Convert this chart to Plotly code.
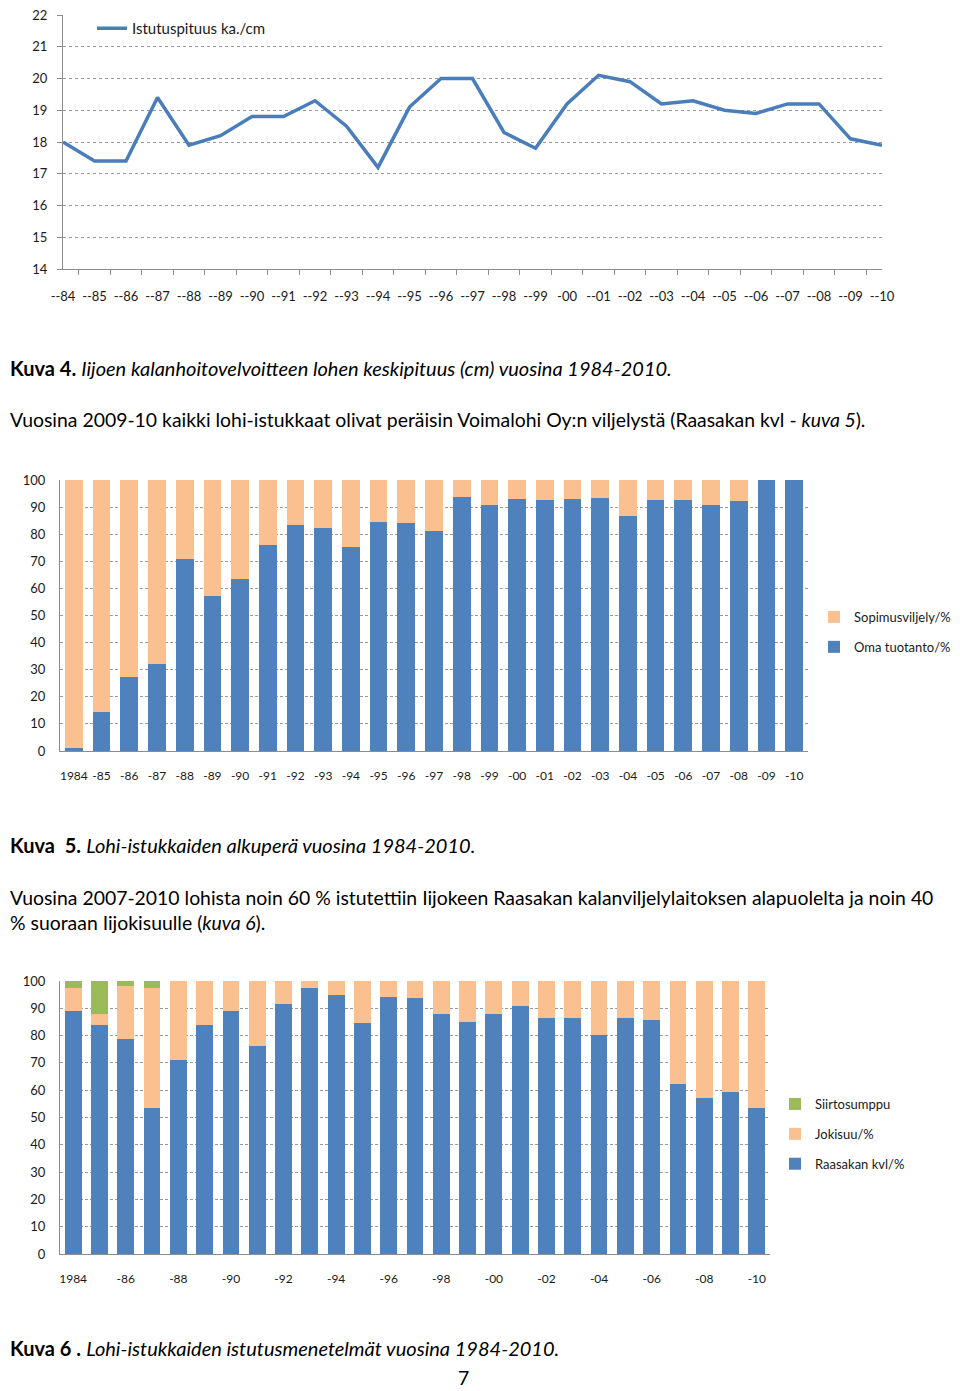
import plotly.graph_objects as go

# The page is shown with the browser's 8px body margin, so the figure is drawn
# 8px in from the window's top-left corner; coordinates below are window pixels.
OFF = 8
FW, FH = 952, 1383

# ---------------- data ----------------
line_labels = ["--84", "--85", "--86", "--87", "--88", "--89", "--90", "--91", "--92",
               "--93", "--94", "--95", "--96", "--97", "--98", "--99", "-00", "--01",
               "--02", "--03", "--04", "--05", "--06", "--07", "--08", "--09", "--10"]
length_cm = [18.0, 17.4, 17.4, 19.4, 17.9, 18.2, 18.8, 18.8, 19.3, 18.5, 17.2, 19.1,
             20.0, 20.0, 18.3, 17.8, 19.2, 20.1, 19.9, 19.2, 19.3, 19.0, 18.9, 19.2,
             19.2, 18.1, 17.9]

bar_labels = ["1984", "-85", "-86", "-87", "-88", "-89", "-90", "-91", "-92", "-93",
              "-94", "-95", "-96", "-97", "-98", "-99", "-00", "-01", "-02", "-03",
              "-04", "-05", "-06", "-07", "-08", "-09", "-10"]
oma_tuotanto = [1.0, 14.5, 27.4, 32.0, 71.0, 57.1, 63.4, 76.2, 83.3, 82.3, 75.1, 84.4,
                84.3, 81.1, 93.6, 90.6, 93.0, 92.5, 93.0, 93.4, 86.9, 92.6, 92.6, 90.8,
                92.4, 100.0, 100.0]
sopimusviljely = [99.0, 85.5, 72.6, 68.0, 29.0, 42.9, 36.6, 23.8, 16.7, 17.7, 24.9, 15.6,
                  15.7, 18.9, 6.4, 9.4, 7.0, 7.5, 7.0, 6.6, 13.1, 7.4, 7.4, 9.2,
                  7.6, 0.0, 0.0]

raasakan = [89.0, 84.0, 78.7, 53.4, 71.1, 84.0, 88.9, 76.2, 91.7, 97.6, 95.0, 84.7,
            94.1, 93.8, 87.8, 85.0, 87.8, 90.8, 86.3, 86.3, 80.2, 86.3, 85.8, 62.2,
            57.3, 59.4, 53.4]
jokisuu = [8.3, 3.9, 19.3, 43.9, 28.9, 16.0, 11.1, 23.8, 8.3, 2.4, 5.0, 15.3,
           5.9, 6.2, 12.2, 15.0, 12.2, 9.2, 13.7, 13.7, 19.8, 13.7, 14.2, 37.8,
           42.7, 40.6, 46.6]
siirtosumppu = [2.7, 12.1, 2.0, 2.7, 0, 0, 0, 0, 0, 0, 0, 0,
                0, 0, 0, 0, 0, 0, 0, 0, 0, 0, 0, 0, 0, 0, 0]
bar3_ticks = ["1984", "-86", "-88", "-90", "-92", "-94", "-96", "-98", "-00", "-02",
              "-04", "-06", "-08", "-10"]

# ---------------- style ----------------
BLUE = "#4F81BD"
ORANGE = "#FAC090"
GREEN = "#9BBB59"
LINEBLUE = "#4A7EBB"
AX = "#8C8C8C"
GRID = "#9A9A9A"
FONT = "Lato"
TXT = "#1a1a1a"


def px_x(p):
    return max(0.0, (p - OFF) / FW)


def px_y(p):
    return min(1.0, max(0.0, 1 - (p - OFF) / FH))


fig = go.Figure()

# chart 1: line
fig.add_trace(go.Scatter(x=line_labels, y=length_cm, mode="lines",
                         line=dict(color=LINEBLUE, width=3.5),
                         name="Istutuspituus ka./cm", xaxis="x", yaxis="y",
                         legend="legend", showlegend=True))

# chart 2: stacked bars
fig.add_trace(go.Bar(x=bar_labels, y=oma_tuotanto, name="Oma tuotanto/%",
                     marker=dict(color=BLUE, line=dict(width=0)), xaxis="x2", yaxis="y2",
                     legend="legend2", legendgroup="a", legendrank=2))
fig.add_trace(go.Bar(x=bar_labels, y=sopimusviljely, name="Sopimusviljely/%",
                     marker=dict(color=ORANGE, line=dict(width=0)), xaxis="x2", yaxis="y2",
                     legend="legend2", legendgroup="b", legendrank=1))

# chart 3: stacked bars
fig.add_trace(go.Bar(x=bar_labels, y=raasakan, name="Raasakan kvl/%",
                     marker=dict(color=BLUE, line=dict(width=0)), xaxis="x3", yaxis="y3",
                     legend="legend3", legendgroup="c", legendrank=3))
fig.add_trace(go.Bar(x=bar_labels, y=jokisuu, name="Jokisuu/%",
                     marker=dict(color=ORANGE, line=dict(width=0)), xaxis="x3", yaxis="y3",
                     legend="legend3", legendgroup="d", legendrank=2))
fig.add_trace(go.Bar(x=bar_labels, y=siirtosumppu, name="Siirtosumppu",
                     marker=dict(color=GREEN, line=dict(width=0)), xaxis="x3", yaxis="y3",
                     legend="legend3", legendgroup="e", legendrank=1))

tickfont = dict(family=FONT, size=13, color=TXT)

fig.update_layout(
    width=FW, height=FH,
    margin=dict(l=0, r=0, t=0, b=0, autoexpand=False),
    paper_bgcolor="white", plot_bgcolor="white",
    barmode="stack", bargap=0.36,
    showlegend=True,
    font=dict(family=FONT, color=TXT),
    xaxis=dict(domain=[px_x(63), px_x(882)], anchor="y", type="category",
               showline=True, linecolor=AX, linewidth=1, ticks="outside",
               tickson="boundaries", ticklen=5, tickcolor=AX, showgrid=False,
               tickangle=0, tickfont=tickfont, ticklabelstandoff=15, automargin=False),
    yaxis=dict(domain=[px_y(269), px_y(15)], anchor="x", range=[14, 22], dtick=1,
               showline=True, linecolor=AX, linewidth=1, ticks="outside", ticklen=5,
               tickcolor=AX, showgrid=True, gridcolor=GRID, griddash="dot",
               gridwidth=1, zeroline=False, tickfont=tickfont, ticklabelstandoff=7,
               ticklabeloverflow="allow", automargin=False),
    xaxis2=dict(domain=[px_x(60), px_x(808)], anchor="y2", type="category",
                showline=True, linecolor=AX, linewidth=1, ticks="", showgrid=False,
                tickangle=0, tickfont=dict(family=FONT, size=12, color=TXT),
                ticklabelstandoff=14, automargin=False),
    yaxis2=dict(domain=[px_y(751), px_y(480)], anchor="x2", range=[0, 100], dtick=10,
                showline=True, linecolor=AX, linewidth=1, ticks="",
                showgrid=True, gridcolor=GRID, griddash="3px,2px", gridwidth=1,
                zeroline=False, tickfont=tickfont, ticklabelstandoff=11, automargin=False),
    xaxis3=dict(domain=[px_x(60), px_x(770)], anchor="y3", type="category",
                showline=True, linecolor=AX, linewidth=1, ticks="", showgrid=False,
                tickmode="array", tickvals=bar3_ticks, ticktext=bar3_ticks, tickangle=0,
                tickfont=dict(family=FONT, size=12, color=TXT), ticklabelstandoff=14,
                automargin=False),
    yaxis3=dict(domain=[px_y(1254), px_y(981)], anchor="x3", range=[0, 100], dtick=10,
                showline=True, linecolor=AX, linewidth=1, ticks="",
                showgrid=True, gridcolor=GRID, griddash="3px,2px", gridwidth=1,
                zeroline=False, tickfont=tickfont, ticklabelstandoff=11, automargin=False),
    legend=dict(x=px_x(92), y=px_y(12), xanchor="left", yanchor="top",
                xref="container", yref="container",
                bgcolor="rgba(0,0,0,0)", font=dict(family=FONT, size=15, color=TXT)),
    legend2=dict(x=px_x(814), y=px_y(602), xanchor="left", yanchor="top",
                 xref="container", yref="container",
                 traceorder="grouped", tracegroupgap=10,
                 bgcolor="rgba(0,0,0,0)", font=dict(family=FONT, size=13, color=TXT)),
    legend3=dict(x=px_x(775), y=px_y(1089), xanchor="left", yanchor="top",
                 xref="container", yref="container",
                 traceorder="grouped", tracegroupgap=10,
                 bgcolor="rgba(0,0,0,0)", font=dict(family=FONT, size=13, color=TXT)),
)

TS = 19.4   # body text
TC = 20     # captions
texts = [
    (368, TC, "<b>Kuva 4.</b> <i>Iijoen kalanhoitovelvoitteen lohen keskipituus (cm) vuosina 1984-2010.</i>"),
    (420, TS, "Vuosina 2009-10 kaikki lohi-istukkaat olivat peräisin Voimalohi Oy:n viljelystä (Raasakan kvl - <i>kuva 5</i>)."),
    (845, TC, "<b>Kuva  5.</b> <i>Lohi-istukkaiden alkuperä vuosina 1984-2010.</i>"),
    (897, TS, "Vuosina 2007-2010 lohista noin 60 % istutettiin Iijokeen Raasakan kalanviljelylaitoksen alapuolelta ja noin 40"),
    (922, TS, "% suoraan Iijokisuulle (<i>kuva 6</i>)."),
    (1348, TC, "<b>Kuva 6 .</b> <i>Lohi-istukkaiden istutusmenetelmät vuosina 1984-2010.</i>"),
]
for yy, size, t in texts:
    fig.add_annotation(x=0, y=px_y(yy), xref="paper", yref="paper", text=t,
                       showarrow=False, xanchor="left", yanchor="middle",
                       font=dict(family=FONT, size=size, color="black"))
# page number: bottom of its text box sits on the window's bottom edge
fig.add_annotation(x=px_x(463), y=px_y(1391), xref="paper", yref="paper", text="7",
                   showarrow=False, xanchor="center", yanchor="bottom",
                   font=dict(family=FONT, size=TS, color="black"))

fig.write_html("out.html")
